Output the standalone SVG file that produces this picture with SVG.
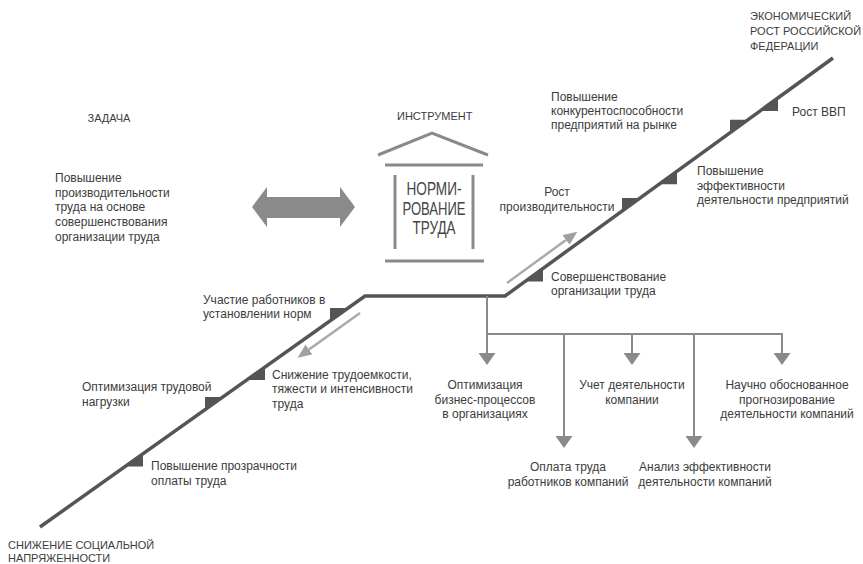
<svg xmlns="http://www.w3.org/2000/svg" width="863" height="564" viewBox="0 0 863 564">
<style>
  text { font-family: "Liberation Sans", Arial, sans-serif; fill: #3c3c3c; }
  .b { font-size: 12px; }
  .h { font-size: 11px; }
  .c { text-anchor: middle; }
  .main { fill: none; stroke: #555; stroke-width: 3.5; }
  .notch { fill: #555; }
  .br { fill: none; stroke: #8a8a8a; stroke-width: 2; }
  .lt { fill: none; stroke: #aaa; stroke-width: 2.5; }
  .bld { fill: none; stroke: #8a8a8a; stroke-width: 3; }
  .norm { font-size: 18px; text-anchor: middle; fill: #444; }
</style>
<defs>
  <marker id="ah" viewBox="0 0 12 17" refX="0" refY="8.5" markerWidth="12" markerHeight="17" markerUnits="userSpaceOnUse" orient="auto">
    <path d="M0,0 L12,8.5 L0,17 Z" fill="#8a8a8a"/>
  </marker>
  <marker id="ahl" viewBox="0 0 14 12" refX="0" refY="6" markerWidth="14" markerHeight="12" markerUnits="userSpaceOnUse" orient="auto">
    <path d="M0,0 L14,6 L0,12 Z" fill="#a0a0a0"/>
  </marker>
</defs>
<rect width="863" height="564" fill="#fff"/>

<g id="connectors">
  <path class="main" d="M40,527 L365,296 L505,296 L833,58"/>
  <g id="notches">
    <polygon class="notch" points="125,466.6 143,453.8 143,466.6"/>
    <polygon class="notch" points="205,409.7 205,396.9 223,396.9"/>
    <polygon class="notch" points="247,379.9 265,367.1 265,379.9"/>
    <polygon class="notch" points="330,320.9 330,308.1 348,308.1"/>
    <polygon class="notch" points="525,281.5 543,268.4 543,281.5"/>
    <polygon class="notch" points="622,211.1 622,198.1 640,198.1"/>
    <polygon class="notch" points="659,184.2 677,171.2 677,184.2"/>
    <polygon class="notch" points="730,132.7 730,119.7 748,119.7"/>
    <polygon class="notch" points="760,110.9 778,97.9 778,110.9"/>
  </g>
  <line class="lt" x1="507" y1="283" x2="566" y2="240" marker-end="url(#ahl)"/>
  <line class="lt" x1="360" y1="313" x2="309" y2="349.5" marker-end="url(#ahl)"/>
  <path class="br" d="M487,296 L487,334 M487,334 L783,334"/>
  <line class="br" x1="487" y1="333" x2="487" y2="353" marker-end="url(#ah)"/>
  <line class="br" x1="564" y1="334" x2="564" y2="436" marker-end="url(#ah)"/>
  <line class="br" x1="632" y1="334" x2="632" y2="353" marker-end="url(#ah)"/>
  <line class="br" x1="694" y1="334" x2="694" y2="436" marker-end="url(#ah)"/>
  <line class="br" x1="782" y1="333" x2="782" y2="353" marker-end="url(#ah)"/>
  <polygon id="double-arrow" fill="#8a8a8a" points="252,207 267,187 267,197 340,197 340,187 355,207 340,227 340,218 267,218 267,227"/>
</g>

<g id="task">
  <text class="h c" x="109" y="122">ЗАДАЧА</text>
  <text class="b" x="55" y="182">Повышение</text>
  <text class="b" x="55" y="197">производительности</text>
  <text class="b" x="55" y="211">труда на основе</text>
  <text class="b" x="55" y="226">совершенствования</text>
  <text class="b" x="55" y="241">организации труда</text>
</g>

<g id="instrument">
  <text class="h" x="397" y="120">ИНСТРУМЕНТ</text>
  <polyline class="bld" points="378,155 432,133 488,155"/>
  <line class="bld" x1="385" y1="165" x2="483" y2="165"/>
  <line class="bld" x1="395" y1="175" x2="395" y2="249"/>
  <line class="bld" x1="473" y1="175" x2="473" y2="249"/>
  <line class="bld" x1="385" y1="261" x2="484" y2="261"/>
  <text class="norm" x="434" y="195" textLength="55" lengthAdjust="spacingAndGlyphs">НОРМИ-</text>
  <text class="norm" x="434" y="215" textLength="63" lengthAdjust="spacingAndGlyphs">РОВАНИЕ</text>
  <text class="norm" x="434" y="234" textLength="43" lengthAdjust="spacingAndGlyphs">ТРУДА</text>
</g>

<g id="goal-top">
  <text class="h" x="750" y="20">ЭКОНОМИЧЕСКИЙ</text>
  <text class="h" x="750" y="35">РОСТ РОССИЙСКОЙ</text>
  <text class="h" x="750" y="50">ФЕДЕРАЦИИ</text>
</g>

<g id="goal-bottom">
  <text class="h" x="8" y="549">СНИЖЕНИЕ СОЦИАЛЬНОЙ</text>
  <text class="h" x="8" y="562">НАПРЯЖЕННОСТИ</text>
</g>

<g id="n-competitiveness">
  <text class="b" x="551" y="101">Повышение</text>
  <text class="b" x="551" y="115">конкурентоспособности</text>
  <text class="b" x="551" y="129">предприятий на рынке</text>
</g>
<g id="n-gdp"><text class="b" x="792" y="116">Рост ВВП</text></g>
<g id="n-efficiency">
  <text class="b" x="697" y="175">Повышение</text>
  <text class="b" x="697" y="190">эффективности</text>
  <text class="b" x="697" y="204">деятельности предприятий</text>
</g>
<g id="n-productivity">
  <text class="b c" x="557" y="196">Рост</text>
  <text class="b c" x="557" y="211">производительности</text>
</g>
<g id="n-organization">
  <text class="b" x="551" y="281">Совершенствование</text>
  <text class="b" x="551" y="295">организации труда</text>
</g>
<g id="n-participation">
  <text class="b" x="203" y="304">Участие работников в</text>
  <text class="b" x="203" y="318">установлении норм</text>
</g>
<g id="n-labor">
  <text class="b" x="272" y="379">Снижение трудоемкости,</text>
  <text class="b" x="272" y="393">тяжести и интенсивности</text>
  <text class="b" x="272" y="408">труда</text>
</g>
<g id="n-load">
  <text class="b" x="82" y="391">Оптимизация трудовой</text>
  <text class="b" x="82" y="406">нагрузки</text>
</g>
<g id="n-transparency">
  <text class="b" x="151" y="470">Повышение прозрачности</text>
  <text class="b" x="151" y="485">оплаты труда</text>
</g>

<g id="b-business">
  <text class="b c" x="485" y="389">Оптимизация</text>
  <text class="b c" x="485" y="404">бизнес-процессов</text>
  <text class="b c" x="485" y="418">в организациях</text>
</g>
<g id="b-pay">
  <text class="b c" x="568" y="471">Оплата труда</text>
  <text class="b c" x="568" y="486">работников компаний</text>
</g>
<g id="b-accounting">
  <text class="b c" x="632" y="389">Учет деятельности</text>
  <text class="b c" x="632" y="404">компании</text>
</g>
<g id="b-analysis">
  <text class="b c" x="705" y="471">Анализ эффективности</text>
  <text class="b c" x="705" y="486">деятельности компаний</text>
</g>
<g id="b-forecast">
  <text class="b c" x="787" y="389">Научно обоснованное</text>
  <text class="b c" x="787" y="404">прогнозирование</text>
  <text class="b c" x="787" y="418">деятельности компаний</text>
</g>
</svg>
